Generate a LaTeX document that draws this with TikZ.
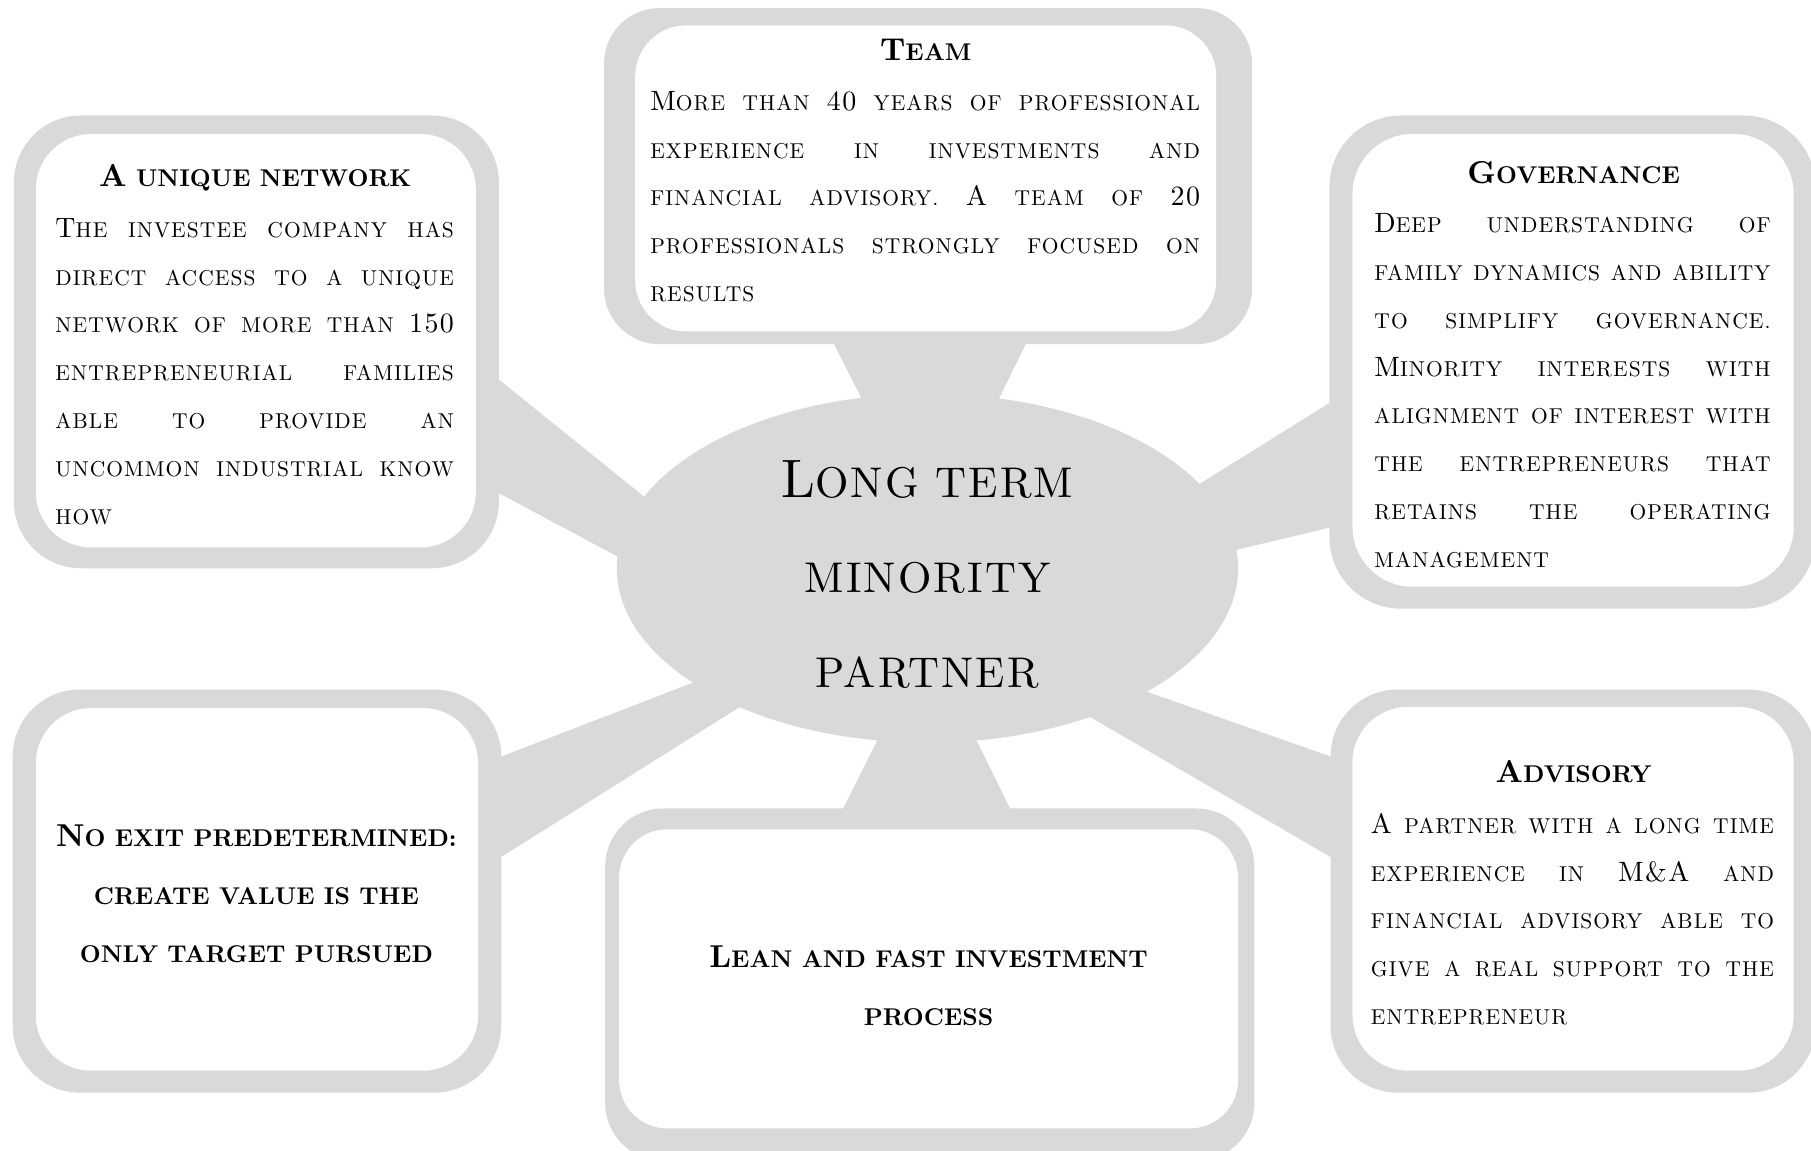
\documentclass[tikz,border=0pt]{standalone}
\usepackage{fontspec}
\newfontfamily\bodyfont[LetterSpace=5]{lmroman10-regular.otf}
\newfontfamily\headfont{lmroman10-bold.otf}
\definecolor{boxgrey}{HTML}{D9D9D9}
\newcommand\bcap[1]{{\fontsize{24.2}{41.4}\selectfont #1}}
\newcommand\hcap[1]{{\fontsize{27.4}{50.5}\selectfont #1}}
\newcommand\ccap[1]{{\fontsize{46.9}{82}\selectfont #1}}
\newcommand\bodyset{\bodyfont\fontsize{18.6}{41.4}\selectfont\tolerance=10000\hyphenpenalty=10000\exhyphenpenalty=10000\parindent=0pt}
\newcommand\headset{\headfont\fontsize{21}{50.5}\selectfont}
\tikzset{
  spoke/.style={fill=boxgrey, draw=none},
  hub/.style={fill=boxgrey, draw=none},
  outerbox/.style={fill=boxgrey, draw=none},
  innerbox/.style={fill=white, draw=none},
  txt/.style={inner sep=0pt, outer sep=0pt, text=black},
}
\begin{document}
\begin{tikzpicture}[x=1pt,y=-1pt]
\useasboundingbox (0,0) rectangle (1568,995.7);
\clip (0,0) rectangle (1568,995.7);
% spokes
\fill[spoke] (718,290) -- (892,290) -- (857.7,360) -- (753.7,360) -- cycle;
\fill[spoke] (420,319) -- (590,456) -- (570,500.7) -- (420,420.6) -- cycle;
\fill[spoke] (1163,341.5) -- (1010,436.7) -- (1040,483.4) -- (1163,454) -- cycle;
\fill[spoke] (422,659.6) -- (630,579.5) -- (665,596.7) -- (422,749.5) -- cycle;
\fill[spoke] (767.5,625) -- (837.7,625) -- (880.4,712) -- (724,712) -- cycle;
\fill[spoke] (960,587.3) -- (1164,659.2) -- (1164,749) -- (920,606.9) -- cycle;
% central ellipse
\fill[hub] (803,492) ellipse [x radius=269, y radius=151];
% boxes
\fill[outerbox, rounded corners=58pt] (12,100) rectangle (432,492);
\fill[innerbox, rounded corners=48pt] (31,116) rectangle (412,474);
\fill[outerbox, rounded corners=48pt] (523,7) rectangle (1084,298);
\fill[innerbox, rounded corners=44pt] (550,22) rectangle (1053,287);
\fill[outerbox, rounded corners=62pt] (1151,100) rectangle (1572,527);
\fill[innerbox, rounded corners=52pt] (1171,116) rectangle (1553,508);
\fill[outerbox, rounded corners=58pt] (11,597) rectangle (434,946);
\fill[innerbox, rounded corners=48pt] (31,613) rectangle (414,927);
\fill[outerbox, rounded corners=50pt] (524,700) rectangle (1086,1005);
\fill[innerbox, rounded corners=42pt] (536,718) rectangle (1072,977);
\fill[outerbox, rounded corners=58pt] (1152,597) rectangle (1572,946);
\fill[innerbox, rounded corners=48pt] (1171,612) rectangle (1553,927);
% centre text
\node[txt, anchor=base] (centre) at (803,431) {\parbox[t]{420pt}{\centering\bodyfont\fontsize{37.2}{82}\selectfont
  \ccap{L}ONG TERM\\ MINORITY\\ PARTNER}};
% team
\node[txt, anchor=base] (teamhead) at (801.5,52.5) {\headset\hcap{T}EAM};
\node[txt, anchor=base west] (teambody) at (563,95.5) {\parbox[t]{476pt}{\bodyset
  \bcap{M}ORE THAN \bcap{40} YEARS OF PROFESSIONAL\linebreak
  EXPERIENCE IN INVESTMENTS AND\linebreak
  FINANCIAL ADVISORY. \bcap{A} TEAM OF \bcap{20}\linebreak
  PROFESSIONALS STRONGLY FOCUSED ON\linebreak
  RESULTS}};
% network
\node[txt, anchor=base] (nethead) at (221,161.5) {\headset\hcap{A} UNIQUE NETWORK};
\node[txt, anchor=base west] (netbody) at (48,205.5) {\parbox[t]{345pt}{\bodyset
  \bcap{T}HE INVESTEE COMPANY HAS\linebreak
  DIRECT ACCESS TO A UNIQUE\linebreak
  NETWORK OF MORE THAN \bcap{150}\linebreak
  ENTREPRENEURIAL FAMILIES\linebreak
  ABLE TO PROVIDE AN\linebreak
  UNCOMMON INDUSTRIAL KNOW\linebreak
  HOW}};
% governance
\node[txt, anchor=base] (govhead) at (1362.5,158.5) {\headset\hcap{G}OVERNANCE};
\node[txt, anchor=base west] (govbody) at (1190,201.5) {\parbox[t]{343pt}{\bodyset
  \bcap{D}EEP UNDERSTANDING OF\linebreak
  FAMILY DYNAMICS AND ABILITY\linebreak
  TO SIMPLIFY GOVERNANCE.\linebreak
  \bcap{M}INORITY INTERESTS WITH\linebreak
  ALIGNMENT OF INTEREST WITH\linebreak
  THE ENTREPRENEURS THAT\linebreak
  RETAINS THE OPERATING\linebreak
  MANAGEMENT}};
% no exit
\node[txt, anchor=base] (noexit) at (222,732.5) {\parbox[t]{400pt}{\centering\headset
  \hcap{N}O EXIT PREDETERMINED:\\ CREATE VALUE IS THE\\ ONLY TARGET PURSUED}};
% lean
\node[txt, anchor=base] (lean) at (804,837.5) {\parbox[t]{500pt}{\centering\fontsize{21}{50}\headfont\selectfont
  \hcap{L}EAN AND FAST INVESTMENT\\ PROCESS}};
% advisory
\node[txt, anchor=base] (advhead) at (1362.5,677.5) {\headset\hcap{A}DVISORY};
\node[txt, anchor=base west] (advbody) at (1187,721.5) {\parbox[t]{349pt}{\bodyset
  \bcap{A} PARTNER WITH A LONG TIME\linebreak
  EXPERIENCE IN \bcap{M\&A} AND\linebreak
  FINANCIAL ADVISORY ABLE TO\linebreak
  GIVE A REAL SUPPORT TO THE\linebreak
  ENTREPRENEUR}};
\end{tikzpicture}
\end{document}
